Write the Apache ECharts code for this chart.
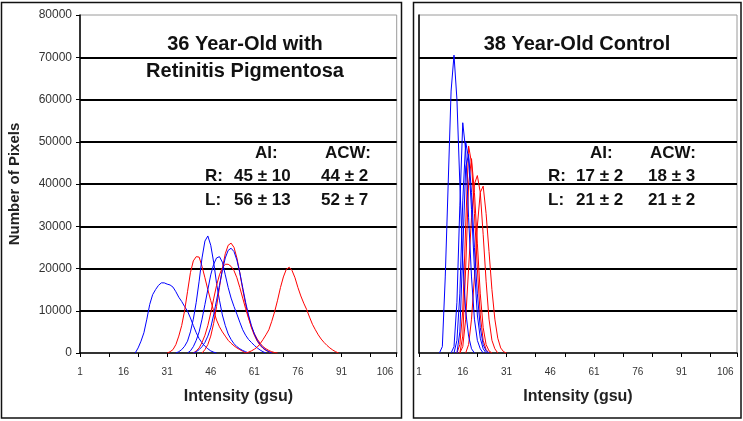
<!DOCTYPE html>
<html>
<head>
<meta charset="utf-8">
<script src="https://cdn.jsdelivr.net/npm/echarts@6/dist/echarts.min.js"></script>
<style>
html,body{margin:0;padding:0;background:#fff;}
#c{width:743px;height:421px;}
</style>
</head>
<body>
<div id="c"></div>
<script>
// ---------- tick labels ----------
const xLabelValues = [1, 16, 31, 46, 61, 76, 91, 106];
const xTickValues = [1, 11, 21, 31, 41, 51, 61, 71, 81, 91, 101, 110];
const yMax = 80000;
const yStep = 10000;

// ---------- panel texts ----------
const leftTitle = ['36 Year-Old with', 'Retinitis Pigmentosa'];
const rightTitle = '38 Year-Old Control';
const statHeaders = ['AI:', 'ACW:'];
const statRows = ['R:', 'L:'];
const leftStats = [['45 ± 10', '44 ± 2'], ['56 ± 13', '52 ± 7']];
const rightStats = [['17 ± 2', '18 ± 3'], ['21 ± 2', '21 ± 2']];
const xName = 'Intensity (gsu)';
const yName = 'Number of Pixels';

// ---------- left panel (Retinitis Pigmentosa) curves: [intensity, pixels] ----------
const rpBlue1 = [[20,0],[21,1200],[22,2800],[23,4800],[24,8000],[25,11500],[26,13800],[27,15000],[28,16000],[29,16600],[30,16600],[31,16300],[32,16100],[33,15600],[34,14500],[35,13200],[36,12200],[37,11000],[38,9900],[39,8300],[40,6500],[41,4800],[42,3400],[43,2400],[44,1600],[45,1000],[46,500],[47,200],[48,0]];
const rpBlue2 = [[34,0],[35,300],[36,800],[37,1600],[38,2800],[39,5000],[40,8000],[41,12000],[42,17000],[43,22500],[44,26500],[45,27700],[46,25500],[47,21500],[48,16500],[49,12500],[50,9000],[51,6500],[52,4500],[53,3200],[54,2200],[55,1500],[56,1000],[57,600],[58,300],[59,0]];
const rpBlue3 = [[38,0],[39,500],[40,1500],[41,3000],[42,5000],[43,8000],[44,11500],[45,15000],[46,18500],[47,21000],[48,22500],[49,22800],[50,21500],[51,18500],[52,15500],[53,13000],[54,11000],[55,9200],[56,7300],[57,5500],[58,4200],[59,3200],[60,2500],[61,1800],[62,1200],[63,700],[64,300],[65,0]];
const rpBlue4 = [[40,0],[41,300],[42,800],[43,1500],[44,2500],[45,4000],[46,6000],[47,9000],[48,12500],[49,16000],[50,19500],[51,22500],[52,24300],[53,24800],[54,24000],[55,22000],[56,19000],[57,15500],[58,12000],[59,9000],[60,6500],[61,4500],[62,3000],[63,2000],[64,1200],[65,700],[66,300],[67,0]];
const rpRed1 = [[31,0],[32,300],[33,800],[34,2000],[35,4000],[36,6500],[37,10000],[38,14500],[39,19000],[40,21800],[41,22800],[42,22700],[43,20500],[44,17800],[45,15000],[46,12400],[47,10000],[48,7800],[49,6200],[50,5000],[51,4000],[52,3000],[53,2300],[54,1700],[55,1200],[56,800],[57,400],[58,0]];
const rpRed2 = [[43,0],[44,800],[45,2000],[46,4000],[47,7000],[48,11000],[49,15500],[50,20000],[51,23500],[52,25500],[53,26000],[54,25000],[55,22500],[56,19000],[57,15000],[58,11500],[59,8500],[60,6000],[61,4200],[62,2800],[63,1800],[64,1100],[65,600],[66,300],[67,0]];
const rpRed3 = [[40,0],[41,500],[42,1200],[43,2500],[44,4200],[45,6500],[46,9500],[47,12800],[48,16000],[49,18500],[50,20200],[51,21000],[52,21000],[53,20500],[54,19500],[55,17800],[56,15500],[57,13000],[58,10500],[59,8200],[60,6200],[61,4600],[62,3300],[63,2300],[64,1500],[65,1000],[66,600],[67,300],[68,100],[69,0]];
const rpRed4 = [[58,0],[59,200],[60,500],[61,900],[62,1400],[63,2200],[64,3200],[65,4300],[66,5500],[67,7500],[68,9800],[69,12500],[70,15500],[71,18000],[72,19800],[73,20300],[74,19500],[75,17800],[76,15500],[77,13500],[78,11800],[79,10300],[80,8500],[81,6800],[82,5500],[83,4300],[84,3300],[85,2500],[86,1800],[87,1200],[88,700],[89,300],[90,0]];

// ---------- right panel (Control) curves ----------
const ctBlue1 = [[8,0],[9,1500],[10,18000],[11,40000],[12,62000],[13,70500],[14,60000],[15,40000],[16,22000],[17,10000],[18,4000],[19,1000],[20,0]];
const ctBlue2 = [[12,0],[13,1500],[14,12000],[15,35000],[16,54500],[17,48000],[18,32000],[19,18000],[20,8000],[21,3000],[22,1000],[23,0]];
const ctBlue3 = [[13,0],[14,3000],[15,14000],[16,36000],[17,50000],[18,46000],[19,34000],[20,20000],[21,9000],[22,3500],[23,1000],[24,0]];
const ctBlue4 = [[14,0],[15,5000],[16,24000],[17,44000],[18,47000],[19,38000],[20,25000],[21,14000],[22,6000],[23,2000],[24,500],[25,0]];
const ctRed1 = [[14,0],[15,2000],[16,10000],[17,30000],[18,49000],[19,45000],[20,33000],[21,20000],[22,9000],[23,3000],[24,800],[25,0]];
const ctRed2 = [[15,0],[16,4000],[17,20000],[18,40000],[19,46000],[20,38000],[21,26000],[22,14000],[23,6000],[24,2000],[25,500],[26,0]];
const ctRed3 = [[15,0],[16,1500],[17,8000],[18,20000],[19,32000],[20,40000],[21,42000],[22,38000],[23,28000],[24,17000],[25,8000],[26,3000],[27,1000],[28,0]];
const ctRed4 = [[17,0],[18,2000],[19,8000],[20,18000],[21,30000],[22,38000],[23,39500],[24,33000],[25,24000],[26,15000],[27,8000],[28,3500],[29,1200],[30,300],[31,0]];

const BLUE = '#0000ff', RED = '#ff0000';
const FONT = '"Liberation Sans", Arial, sans-serif';

const leftCurves = [[rpBlue1,BLUE],[rpRed1,RED],[rpBlue2,BLUE],[rpBlue3,BLUE],[rpRed3,RED],[rpRed2,RED],[rpBlue4,BLUE],[rpRed4,RED]];
const rightCurves = [[ctRed4,RED],[ctRed3,RED],[ctRed2,RED],[ctRed1,RED],[ctBlue4,BLUE],[ctBlue3,BLUE],[ctBlue2,BLUE],[ctBlue1,BLUE]];

function mkSeries(list, idx) {
  return list.map(([d, c]) => ({
    type: 'line', xAxisIndex: idx, yAxisIndex: idx, data: d,
    showSymbol: false, symbol: 'none', silent: true,
    lineStyle: { color: c, width: 1 }
  }));
}

function xAxis(gi) {
  return {
    type: 'value', gridIndex: gi, min: 1, max: 110,
    name: xName, nameLocation: 'middle', nameGap: 36,
    nameTextStyle: { fontFamily: FONT, fontWeight: 'bold', fontSize: 16, color: '#222' },
    axisLine: { show: true, onZero: false, lineStyle: { color: '#000', width: 1.5 } },
    axisTick: { show: true, length: 4, customValues: xTickValues, lineStyle: { color: '#000', width: 1 } },
    axisLabel: { customValues: xLabelValues, fontFamily: FONT, fontSize: 10, color: '#333', margin: 14 },
    splitLine: { show: false }
  };
}
function yAxis(gi, showLabels) {
  return {
    type: 'value', gridIndex: gi, min: 0, max: yMax, interval: yStep,
    name: showLabels ? yName : '', nameLocation: 'middle', nameGap: 58, nameRotate: 90,
    nameTextStyle: { fontFamily: FONT, fontWeight: 'bold', fontSize: 15, color: '#222' },
    axisLine: { show: true, lineStyle: { color: '#000', width: 1.5 } },
    axisTick: { show: showLabels, length: 4, lineStyle: { color: '#000' } },
    axisLabel: { show: showLabels, fontFamily: FONT, fontSize: 12, color: '#333', margin: 8, formatter: v => String(v) },
    splitLine: { show: true, showMinLine: false, showMaxLine: false, lineStyle: { color: '#000', width: 2 } }
  };
}

function statTexts(x0, rows) {
  const out = [];
  const ts = { fontFamily: FONT, fontWeight: 'bold', fontSize: 17, fill: '#111' };
  out.push({ type: 'text', left: x0.h1, top: 145, style: Object.assign({ text: statHeaders[0] }, ts) });
  out.push({ type: 'text', left: x0.h2, top: 145, style: Object.assign({ text: statHeaders[1] }, ts) });
  statRows.forEach((r, i) => {
    const y = 168 + i * 24;
    out.push({ type: 'text', left: x0.r, top: y, style: Object.assign({ text: r }, ts) });
    out.push({ type: 'text', left: x0.v1, top: y, style: Object.assign({ text: rows[i][0] }, ts) });
    out.push({ type: 'text', left: x0.v2, top: y, style: Object.assign({ text: rows[i][1] }, ts) });
  });
  return out;
}

const titleStyle = { fontFamily: FONT, fontWeight: 'bold', fontSize: 20, fill: '#111', align: 'center', verticalAlign: 'middle' };

const chart = echarts.init(document.getElementById('c'), null, { renderer: 'canvas' });
chart.setOption({
  animation: false,
  backgroundColor: '#fff',
  grid: [
    { left: 80, top: 15, width: 316.7, height: 338, show: true, borderColor: '#9a9a9a', borderWidth: 1, containLabel: false, outerBoundsMode: 'none' },
    { left: 419, top: 15, width: 318, height: 338, show: true, borderColor: '#9a9a9a', borderWidth: 1, containLabel: false, outerBoundsMode: 'none' }
  ],
  xAxis: [xAxis(0), xAxis(1)],
  yAxis: [yAxis(0, true), yAxis(1, false)],
  series: mkSeries(leftCurves, 0).concat(mkSeries(rightCurves, 1)),
  graphic: [
    { type: 'rect', shape: { x: 1.5, y: 2.5, width: 400, height: 415.5 }, style: { fill: 'none', stroke: '#111', lineWidth: 1.5 }, z: 100 },
    { type: 'rect', shape: { x: 413.5, y: 2.5, width: 327.5, height: 415.5 }, style: { fill: 'none', stroke: '#111', lineWidth: 1.5 }, z: 100 },
    { type: 'text', x: 245, y: 44, style: Object.assign({ text: leftTitle[0] }, titleStyle) },
    { type: 'text', x: 245, y: 71, style: Object.assign({ text: leftTitle[1] }, titleStyle) },
    { type: 'text', x: 577, y: 44, style: Object.assign({ text: rightTitle }, titleStyle) }
  ].concat(
    statTexts({ h1: 255, h2: 325, r: 205, v1: 234, v2: 321 }, leftStats),
    statTexts({ h1: 590, h2: 650, r: 548, v1: 576, v2: 648 }, rightStats)
  )
});
</script>
</body>
</html>
